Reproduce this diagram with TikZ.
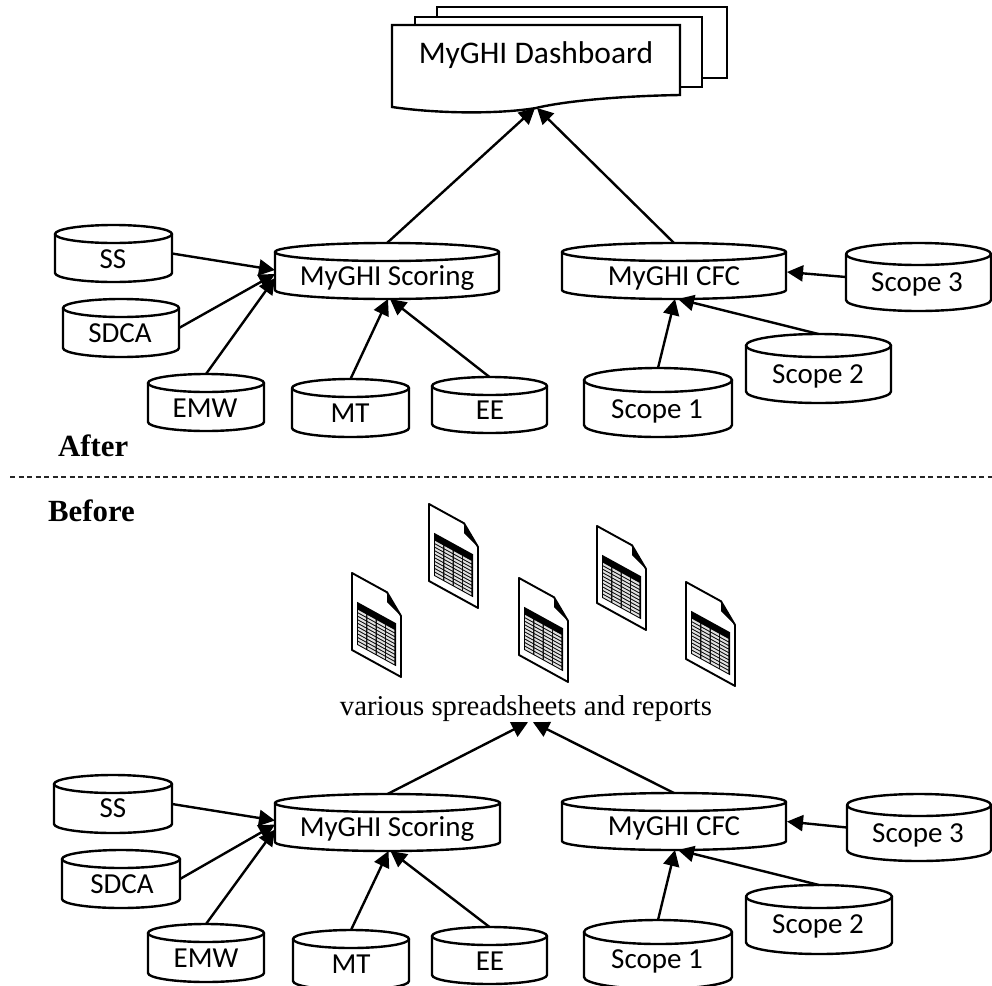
\documentclass[tikz,border=0pt]{standalone}
\usepackage{fontspec}
\usetikzlibrary{arrows.meta}
\newfontfamily\carl{Carlito}
\newfontfamily\timesf{Liberation Serif}
\tikzset{
  cylline/.style={draw=black,line width=2.4pt,fill=white,line join=round},
  hook/.style={rectangle,inner sep=0pt,outer sep=0pt},
  lab/.style={anchor=base,inner sep=0pt,font=\carl\fontsize{29}{32}\selectfont,text=black},
  conn/.style={line width=2.4pt,-{Triangle[length=16pt,width=16pt]}},
  page/.style={draw=black,line width=2.4pt,fill=white},
  head/.style={anchor=base west,inner sep=0pt,font=\timesf\bfseries\fontsize{30.8}{33}\selectfont},
}
% name, x1, x2, ytop, ybot, ry, text, text x, text baseline
\newcommand{\cylnode}[9]{%
  \pgfmathsetmacro{\cylcx}{(#2+#3)/2}%
  \pgfmathsetmacro{\cylcy}{(#4+#5)/2}%
  \pgfmathsetmacro{\cylw}{#3-#2}%
  \pgfmathsetmacro{\cylh}{#5-#4}%
  \pgfmathsetmacro{\cylrx}{(#3-#2)/2}%
  \pgfmathsetmacro{\cylrim}{#4+#6}%
  \pgfmathsetmacro{\cyllow}{#5-#6}%
  \pgfmathsetmacro{\cyllowc}{#5-0.45*#6}%
  \pgfmathsetmacro{\cylxa}{#2+0.45*\cylrx}%
  \pgfmathsetmacro{\cylxb}{#3-0.45*\cylrx}%
  \draw[cylline] (#2,\cylrim) -- (#2,\cyllow) .. controls (#2,\cyllowc) and (\cylxa,#5) .. (\cylcx,#5)
     .. controls (\cylxb,#5) and (#3,\cyllowc) .. (#3,\cyllow) -- (#3,\cylrim) -- cycle;
  \draw[cylline] (\cylcx,\cylrim) ellipse [x radius=\cylrx, y radius=#6];
  \node[hook,minimum width=\cylw pt,minimum height=\cylh pt] (#1) at (\cylcx,\cylcy) {};
  \node[lab] (#1-t) at (#8,#9) {#7};
}
\newcommand{\docicon}[2]{%
  \begin{scope}[shift={(#1,#2)},x={(1pt,-0.55pt)},y={(0pt,-1pt)}]
    \draw[line width=1.9pt,fill=white,line join=round] (0,0) -- (35,0) -- (49,16) -- (49,77) -- (0,77) -- cycle;
    \fill[black] (35,0) -- (49,16) -- (35,10) -- cycle;
    \fill[black] (5,26) -- (44,26) -- (44,69) -- (5,69) -- cycle;
    \foreach \cc in {0,1,2,3}{
      \foreach \rr in {0,...,9}{
        \fill[white!88!black] ({6+\cc*9.4},{33.6+\rr*3.55}) -- ++(8.2,0) -- ++(0,2.3) -- ++(-8.2,0) -- cycle;
      }
    }
  \end{scope}
}
\begin{document}
\begin{tikzpicture}[x=1pt,y=-1pt]
\useasboundingbox (0,0) rectangle (992,985);
\clip (0,0) rectangle (992,985);

% dashboard stack
\draw[page] (437,7) rectangle (727,78);
\draw[page] (415,17) rectangle (702,87);
\draw[page] (392,25) -- (680,25) -- (680,95) .. controls (620,96) and (565,101) .. (536,108)
   .. controls (500,114) and (440,114) .. (392,107) -- cycle;
\node[hook,minimum width=288pt,minimum height=83pt] (dash) at (536,66.5) {};
\node[lab,font=\carl\fontsize{31.5}{34}\selectfont] (dash-t) at (536,63) {MyGHI Dashboard};

% After
\cylnode{ass}{55}{172}{225}{282}{9}{SS}{113}{268}
\cylnode{asd}{63}{179}{299}{357}{9}{SDCA}{120}{342}
\cylnode{aem}{148}{264}{374}{431}{9}{EMW}{205}{417}
\cylnode{asc}{275}{499}{243}{299}{9}{MyGHI Scoring}{387}{285}
\cylnode{amt}{292}{409}{379}{437}{9}{MT}{350}{422}
\cylnode{aee}{432}{547}{377}{433}{9}{EE}{490}{419}
\cylnode{acf}{562}{786}{243}{299}{9}{MyGHI CFC}{674}{285}
\cylnode{as3}{846}{991}{243}{311}{11}{Scope 3}{917}{291}
\cylnode{as2}{746}{891}{334}{403}{11.5}{Scope 2}{818}{383}
\cylnode{as1}{584}{732}{368}{437}{12}{Scope 1}{657}{418}

\draw[conn] (ass.east) -- ([yshift=1pt]asc.west);
\draw[conn] (asd.east) -- ([yshift=-3pt]asc.west);
\draw[conn] (aem.north) -- ([yshift=-7pt]asc.west);
\draw[conn] (amt.north) -- ([xshift=1pt]asc.south);
\draw[conn] (aee.north) -- ([xshift=3pt]asc.south);
\draw[conn] (as1.north) -- ([xshift=1pt]acf.south);
\draw[conn] (as2.north) -- ([xshift=4pt]acf.south);
\draw[conn] (as3.west) -- ([xshift=1pt,yshift=-1pt]acf.east);
\draw[conn] (asc.north) -- ([xshift=-1pt]dash.south);
\draw[conn] (acf.north) -- ([xshift=1pt]dash.south);

\node[head] (after) at (58,456) {After};
\coordinate (dl) at (10,477);
\coordinate (dr) at (992,477);
\draw[line width=1.1pt,black!85,dash pattern=on 5pt off 3.5pt] (dl) -- (dr);
\node[head] (before) at (48,521) {Before};

% spreadsheets
\docicon{352}{573}
\docicon{429}{504}
\docicon{519}{578}
\docicon{597}{526}
\docicon{686}{582}
\node[anchor=base,inner sep=0pt,font=\timesf\fontsize{28.7}{32}\selectfont,text depth=7pt] (sheets) at (526,715) {various spreadsheets and reports};

% Before
\cylnode{bss}{54}{172}{775}{833}{9}{SS}{113}{817}
\cylnode{bsd}{62}{180}{850}{908}{9}{SDCA}{122}{893}
\cylnode{bem}{148}{264}{924}{982}{9}{EMW}{206}{967}
\cylnode{bsc}{275}{500}{794}{851}{9}{MyGHI Scoring}{387}{836}
\cylnode{bmt}{293}{409}{930}{990}{9}{MT}{351}{973}
\cylnode{bee}{432}{547}{927}{984}{9}{EE}{490}{970}
\cylnode{bcf}{562}{786}{793}{850}{9}{MyGHI CFC}{674}{835}
\cylnode{bs3}{847}{991}{794}{861}{11}{Scope 3}{918}{842}
\cylnode{bs2}{746}{892}{885}{954}{11.5}{Scope 2}{818}{933}
\cylnode{bs1}{584}{732}{920}{989}{12}{Scope 1}{657}{968}

\draw[conn] (bss.east) -- ([yshift=2pt]bsc.west);
\draw[conn] (bsd.east) -- ([yshift=-2pt]bsc.west);
\draw[conn] (bem.north) -- ([yshift=-7pt]bsc.west);
\draw[conn] (bmt.north) -- ([xshift=1pt]bsc.south);
\draw[conn] (bee.north) -- ([xshift=3pt]bsc.south);
\draw[conn] (bs1.north) -- ([xshift=1pt]bcf.south);
\draw[conn] (bs2.north) -- ([xshift=4pt]bcf.south);
\draw[conn] (bs3.west) -- ([xshift=1pt]bcf.east);
\draw[conn] (bsc.north) -- ([xshift=2pt]sheets.south);
\draw[conn] (bcf.north) -- ([xshift=7pt]sheets.south);
\end{tikzpicture}
\end{document}
